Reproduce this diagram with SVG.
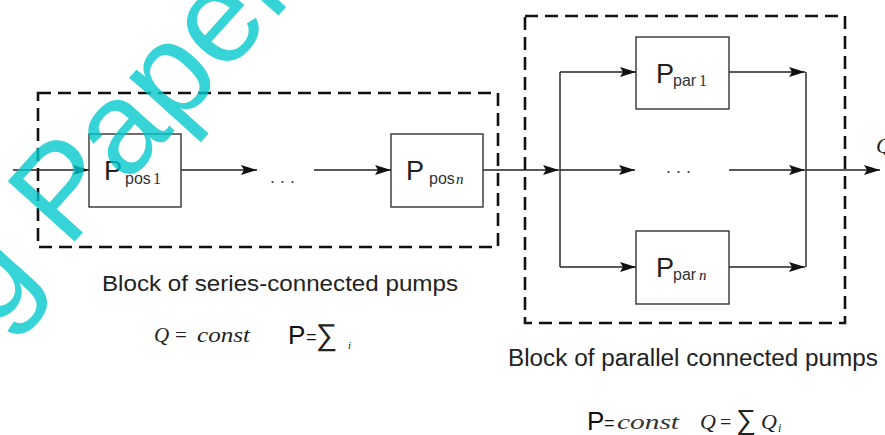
<svg xmlns="http://www.w3.org/2000/svg" width="885" height="435" viewBox="0 0 885 435">
<style>
.dash{fill:none;stroke:#111;stroke-width:2.6;stroke-dasharray:13 7}
.box{fill:#fff;stroke:#333;stroke-width:1.4}
.ln{fill:none;stroke:#222;stroke-width:1.4}
.big{font-family:"Liberation Sans",Arial,sans-serif;font-size:27px;fill:#222}
.sub{font-family:"Liberation Sans",Arial,sans-serif;font-size:16px;fill:#333}
.num{font-family:"Liberation Serif","Times New Roman",serif;font-size:16px;fill:#333}
.it{font-family:"Liberation Serif","Times New Roman",serif;font-style:italic;fill:#222}
.lbl{font-family:"Liberation Sans",Arial,sans-serif;font-size:22px;fill:#222}
.dots{font-family:"Liberation Sans",Arial,sans-serif;font-size:18px;fill:#444}
.sans{font-family:"Liberation Sans",Arial,sans-serif;fill:#111}
.ser{font-family:"Liberation Serif","Times New Roman",serif;fill:#222}
.sig{font-family:"Liberation Sans",Arial,sans-serif;fill:#222}
</style>
<defs>
<marker id="arr" markerUnits="userSpaceOnUse" markerWidth="16" markerHeight="10" refX="16" refY="5" orient="auto">
<path d="M0,0 L16,5 L0,10 L3,5 Z" fill="#111"/>
</marker>
</defs>
<rect width="885" height="435" fill="#fff"/>

<g id="series-block">
<rect class="dash" x="38" y="93" width="460" height="154"/>
<text class="lbl" x="102" y="291" textLength="356" lengthAdjust="spacingAndGlyphs">Block of series-connected pumps</text>
</g>

<g id="parallel-block">
<rect class="dash" x="525" y="16" width="320" height="307"/>
<text class="lbl" x="508" y="366" textLength="370" lengthAdjust="spacingAndGlyphs" style="font-size:23px">Block of parallel connected pumps</text>
</g>

<g id="connectors">
<path class="ln" d="M13,170 H89" marker-end="url(#arr)"/>
<path class="ln" d="M181,170 H257" marker-end="url(#arr)"/>
<path class="ln" d="M314,170 H391" marker-end="url(#arr)"/>
<path class="ln" d="M483,170 H559" marker-end="url(#arr)"/>
<path class="ln" d="M560,72 V267"/>
<path class="ln" d="M560,72 H636" marker-end="url(#arr)"/>
<path class="ln" d="M560,170 H635" marker-end="url(#arr)"/>
<path class="ln" d="M560,267 H636" marker-end="url(#arr)"/>
<path class="ln" d="M729,72 H805" marker-end="url(#arr)"/>
<path class="ln" d="M729,170 H805" marker-end="url(#arr)"/>
<path class="ln" d="M729,267 H805" marker-end="url(#arr)"/>
<path class="ln" d="M806,72 V267"/>
<path class="ln" d="M806,170 H880" marker-end="url(#arr)"/>
<text class="dots" x="270" y="183">. . .</text>
<text class="dots" x="666" y="173">. . .</text>
<text class="it" x="876" y="153" style="font-size:22px">Q</text>
</g>

<g id="pos1">
<rect class="box" x="89" y="134" width="92" height="73"/>
<text class="big" x="104" y="180">P</text>
<text class="sub" x="125" y="184">pos</text>
<text class="num" x="153" y="184">1</text>
</g>

<g id="posn">
<rect class="box" x="391" y="134" width="92" height="73"/>
<text class="big" x="406" y="180">P</text>
<text class="sub" x="429" y="184">pos</text>
<text class="it" x="456" y="184" style="font-size:15px">n</text>
</g>

<g id="par1">
<rect class="box" x="636" y="37" width="93" height="72"/>
<text class="big" x="656" y="83">P</text>
<text class="sub" x="673" y="86">par</text>
<text class="num" x="699" y="86">1</text>
</g>

<g id="parn">
<rect class="box" x="636" y="231" width="93" height="73"/>
<text class="big" x="656" y="277">P</text>
<text class="sub" x="673" y="280">par</text>
<text class="it" x="699" y="280" style="font-size:15px">n</text>
</g>

<g id="series-formula">
<text class="it" x="154" y="342" style="font-size:21px">Q</text>
<text class="ser" x="175" y="342" style="font-size:21px">=</text>
<text class="it" x="197" y="342" style="font-size:21px" textLength="53" lengthAdjust="spacingAndGlyphs">const</text>
<text class="sans" x="288" y="344" style="font-size:26px">P</text>
<text class="sans" x="306" y="343" style="font-size:18px">=</text>
<text class="sig" x="316" y="345" style="font-size:30px">∑</text>
<text class="it" x="348" y="349" style="font-size:11px">i</text>
</g>

<g id="parallel-formula">
<text class="sans" x="587" y="430" style="font-size:26px">P</text>
<text class="sans" x="604" y="429" style="font-size:18px">=</text>
<text class="it" x="617" y="429" style="font-size:22px;fill:#333" textLength="62" lengthAdjust="spacingAndGlyphs">const</text>
<text class="it" x="700" y="429" style="font-size:22px">Q</text>
<text class="ser" x="720" y="429" style="font-size:20px">=</text>
<text class="sig" x="736" y="429" style="font-size:28px">∑</text>
<text class="it" x="761" y="429" style="font-size:22px">Q</text>
<text class="it" x="778" y="432" style="font-size:12px">i</text>
</g>

<g id="watermark" opacity="0.78">
<text transform="translate(68,249) rotate(-48)" x="-212" y="0" style="font-family:'Liberation Sans',Arial,sans-serif;font-size:131px;fill:#00c8cc">ing Paper</text>
</g>
</svg>
